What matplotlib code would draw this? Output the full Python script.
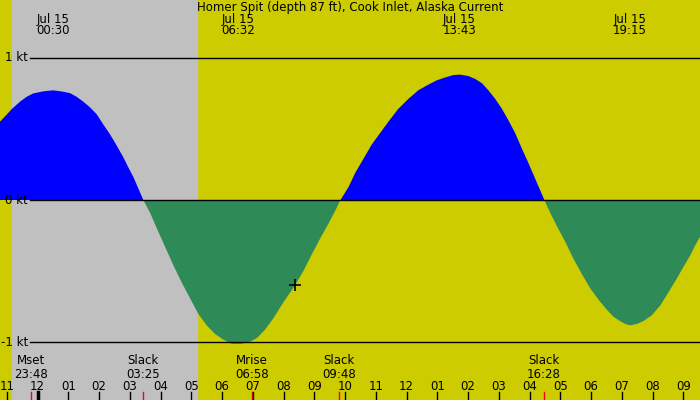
import matplotlib
matplotlib.use("Agg")
import matplotlib.pyplot as plt
import numpy as np

# === DATA (hours after midnight Jul 15, knots) ===
hours = [-1.22, -1.00, -0.83, -0.57, -0.35, -0.14, 0.19, 0.51, 0.84, 1.06, 1.27, 1.49,
         1.71, 1.93, 2.14, 2.36, 2.58, 2.79, 2.95, 3.12, 3.28, 3.44,
         3.66, 3.88, 4.15, 4.42, 4.69, 4.96, 5.23, 5.50, 5.77, 6.04, 6.32, 6.59,
         6.86, 7.13, 7.40, 7.67, 7.99, 8.37, 8.64, 8.97, 9.19, 9.40, 9.67, 9.85,
         10.11, 10.33, 10.60, 10.87, 11.14, 11.41, 11.73, 12.06, 12.38, 12.71, 12.98,
         13.25, 13.52, 13.74, 14.01, 14.23, 14.45, 14.66, 14.88, 15.10, 15.31, 15.53,
         15.75, 15.96, 16.18, 16.48,
         16.67, 16.88, 17.15, 17.42, 17.70, 17.97, 18.24, 18.51, 18.73, 18.94, 19.11,
         19.27, 19.49, 19.70, 19.97, 20.25, 20.51, 20.79, 21.00, 21.22, 21.38, 21.54]
speed = [0.55, 0.60, 0.64, 0.69, 0.725, 0.748, 0.763, 0.77, 0.76, 0.75, 0.725, 0.69,
         0.65, 0.60, 0.53, 0.46, 0.38, 0.30, 0.23, 0.16, 0.08, 0.00,
         -0.09, -0.20, -0.33, -0.46, -0.58, -0.69, -0.80, -0.88, -0.94, -0.98, -1.01, -1.01,
         -1.00, -0.97, -0.91, -0.83, -0.72, -0.60, -0.50, -0.36, -0.27, -0.19, -0.08, 0.00,
         0.09, 0.19, 0.29, 0.39, 0.47, 0.55, 0.64, 0.71, 0.77, 0.81, 0.84,
         0.86, 0.877, 0.88, 0.87, 0.85, 0.82, 0.77, 0.71, 0.64, 0.56, 0.47,
         0.36, 0.26, 0.15, 0.00,
         -0.09, -0.18, -0.29, -0.41, -0.52, -0.62, -0.70, -0.77, -0.82, -0.85, -0.87,
         -0.88, -0.87, -0.85, -0.81, -0.74, -0.65, -0.55, -0.47, -0.39, -0.32, -0.26]

title = "Homer Spit (depth 87 ft), Cook Inlet, Alaska Current"
peak_hours = [0.5, 6.53, 13.72, 19.25]
peak_labels = ["00:30", "06:32", "13:43", "19:15"]
event_hours = [-0.2, 3.42, 6.97, 9.8, 16.47]
event_names = ["Mset", "Slack", "Mrise", "Slack", "Slack"]
event_times = ["23:48", "03:25", "06:58", "09:48", "16:28"]
tick_hours = list(range(-1, 22))
tick_labels = ["11", "12", "01", "02", "03", "04", "05", "06", "07", "08", "09", "10",
               "11", "12", "01", "02", "03", "04", "05", "06", "07", "08", "09"]
night = (-0.83, 5.19)
now_hour, now_speed = 8.37, -0.60
kt_levels = [1, 0, -1]

# === PLOT ===
YELLOW = "#cccc00"
GRAY = "#c0c0c0"
FS = 8.5

fig = plt.figure(figsize=(7, 4), dpi=100)
ax = fig.add_axes([0, 0, 1, 1])
ax.set_facecolor(YELLOW)
ax.set_xlim(-1.22, 21.54)
ax.set_ylim(-1.404, 1.404)
ax.axis("off")
fig.patch.set_facecolor(YELLOW)

# night shading
ax.axvspan(night[0], night[1], color=GRAY, zorder=0)

t = np.array(hours)
s = np.array(speed)
ax.fill_between(t, s, 0, where=s >= 0, color="#0000ff", interpolate=True, lw=0, zorder=2)
ax.fill_between(t, s, 0, where=s <= 0, color="#2e8b57", interpolate=True, lw=0, zorder=2)

x0 = -1.22 + 30 / 30.75
for lv in kt_levels:
    ax.plot([x0, 21.54], [lv, lv], color="black", lw=1, zorder=3)
    ax.text(-1.22 + 28 / 30.75, lv, f"{lv} kt", ha="right", va="center",
            fontsize=FS, zorder=4)

tr = ax.get_xaxis_transform()
ax.text(10.16, 0.982, title, ha="center", va="center", fontsize=FS, transform=tr)
for h, lab in zip(peak_hours, peak_labels):
    ax.text(h, 0.9525, "Jul 15", ha="center", va="center", fontsize=FS, transform=tr)
    ax.text(h, 0.9225, lab, ha="center", va="center", fontsize=FS, transform=tr)

for h, name, tm in zip(event_hours, event_names, event_times):
    ax.text(h, 0.0975, name, ha="center", va="center", fontsize=FS, transform=tr)
    ax.text(h, 0.065, tm, ha="center", va="center", fontsize=FS, transform=tr)
    ax.plot([h, h], [0, 0.02], color="red", lw=1, transform=tr, zorder=3)

for h, lab in zip(tick_hours, tick_labels):
    ax.text(h, 0.035, lab, ha="center", va="center", fontsize=FS, transform=tr)
    ax.plot([h, h], [0, 0.02], color="black", lw=2.5 if h == 0 else 1,
            transform=tr, zorder=3)

ax.plot([now_hour], [now_speed], marker="+", color="black", ms=9, mew=1.2, zorder=5)

fig.savefig("out.png", dpi=100, facecolor=YELLOW)
